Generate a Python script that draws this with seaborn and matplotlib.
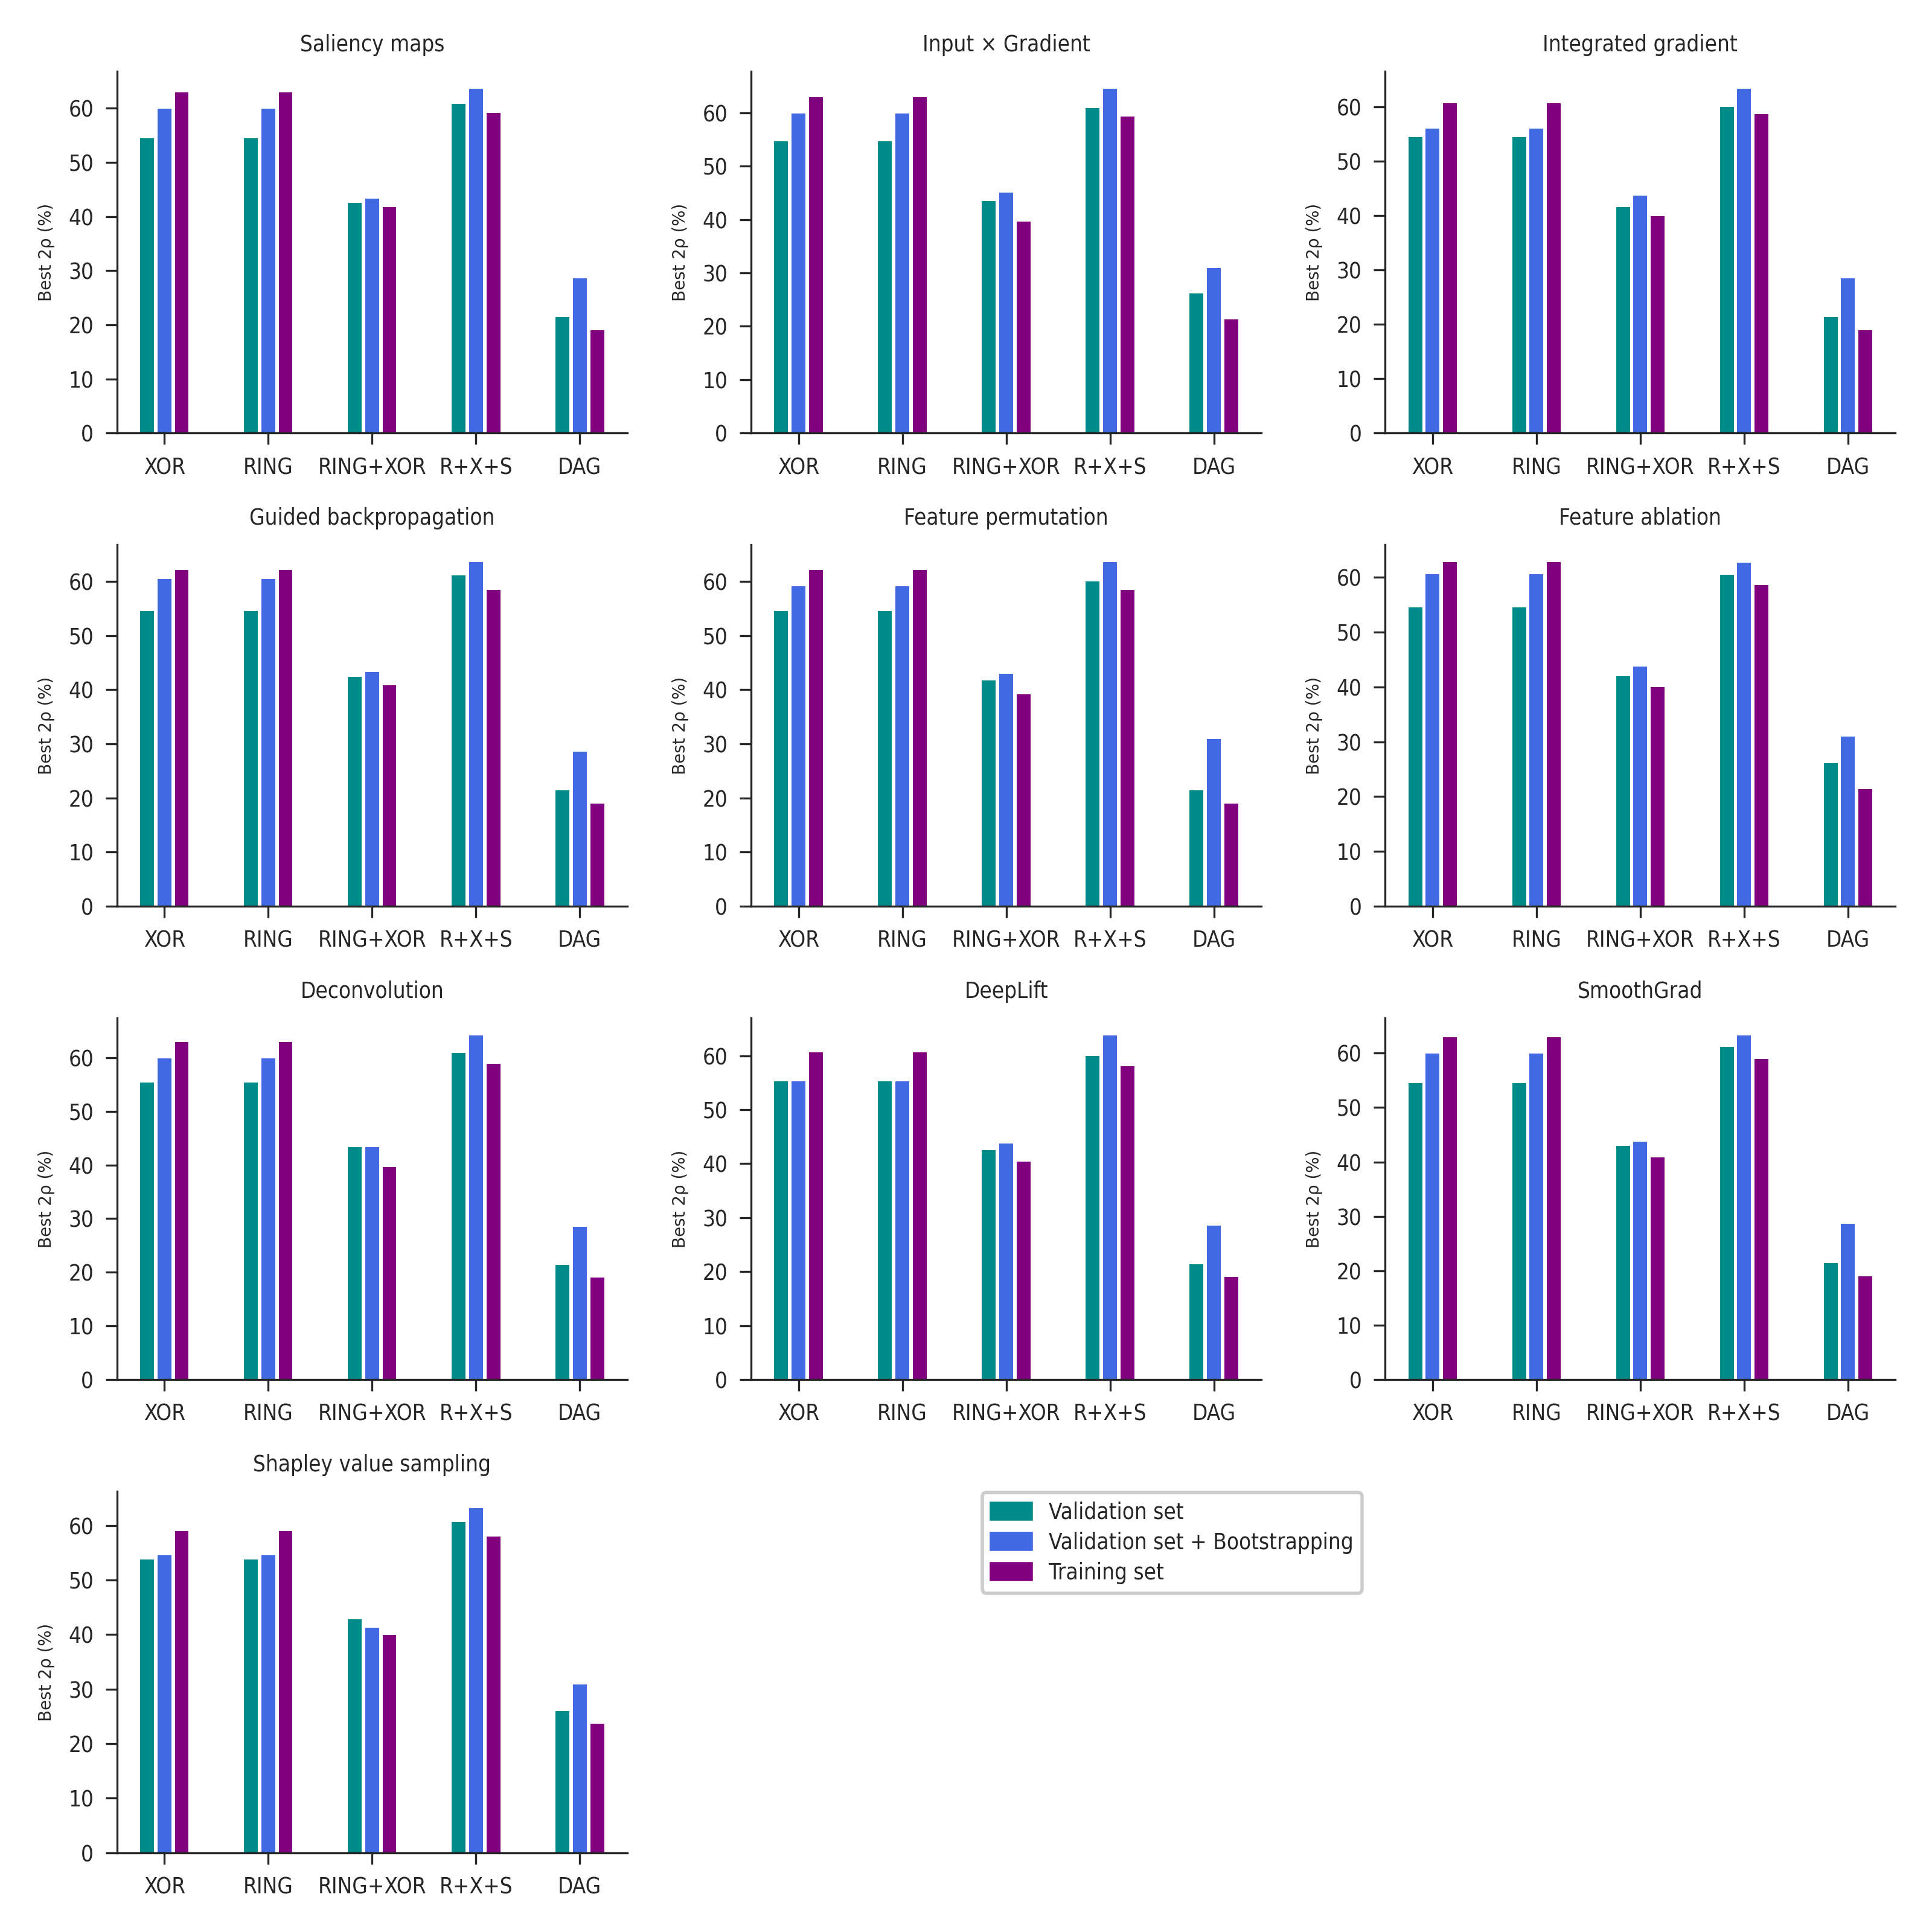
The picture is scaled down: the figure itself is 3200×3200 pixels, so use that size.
import seaborn as sns
import matplotlib.pyplot as plt
import numpy as np
import pandas as pd
from matplotlib.font_manager import FontProperties

# datasets on the x axis, and the three ways of picking the best 2p
datasets = ['XOR', 'RING', 'RING+XOR', 'R+X+S', 'DAG']
sets = ['Validation set', 'Validation set + Bootstrapping', 'Training set']
colors = ['darkcyan', 'royalblue', 'purple']

# rows: validation, validation + bootstrapping, training
saliency = [[54.5, 54.5, 42.5, 60.8, 21.4],
            [59.9, 59.9, 43.3, 63.6, 28.6],
            [62.9, 62.9, 41.7, 59.1, 19.0]]
input_x_gradient = [[54.6, 54.6, 43.4, 60.9, 26.1],
                    [59.9, 59.9, 45.0, 64.5, 30.9],
                    [62.9, 62.9, 39.6, 59.3, 21.3]]
integrated_gradient = [[54.5, 54.5, 41.6, 60.0, 21.4],
                       [56.1, 56.1, 43.7, 63.4, 28.5],
                       [60.7, 60.7, 39.9, 58.7, 18.9]]
guided_backprop = [[54.5, 54.5, 42.4, 61.1, 21.4],
                   [60.5, 60.5, 43.3, 63.6, 28.6],
                   [62.1, 62.1, 40.8, 58.5, 19.0]]
feature_permutation = [[54.5, 54.5, 41.7, 60.0, 21.4],
                       [59.1, 59.1, 42.9, 63.6, 30.9],
                       [62.1, 62.1, 39.1, 58.5, 19.0]]
feature_ablation = [[54.5, 54.5, 42.0, 60.5, 26.1],
                    [60.6, 60.6, 43.7, 62.7, 30.9],
                    [62.8, 62.8, 40.0, 58.6, 21.4]]
deconvolution = [[55.4, 55.4, 43.3, 60.9, 21.4],
                 [59.9, 59.9, 43.3, 64.2, 28.5],
                 [62.9, 62.9, 39.6, 58.9, 19.0]]
deeplift = [[55.3, 55.3, 42.5, 60.0, 21.4],
            [55.3, 55.3, 43.7, 63.8, 28.5],
            [60.6, 60.6, 40.4, 58.0, 19.0]]
smoothgrad = [[54.5, 54.5, 42.9, 61.1, 21.4],
              [59.9, 59.9, 43.7, 63.3, 28.6],
              [62.9, 62.9, 40.8, 58.9, 19.0]]
shapley = [[53.8, 53.8, 42.8, 60.6, 26.0],
           [54.5, 54.5, 41.2, 63.1, 30.8],
           [59.0, 59.0, 39.9, 58.0, 23.7]]

methods = [('Saliency maps', saliency),
           ('Input \u00d7 Gradient', input_x_gradient),
           ('Integrated gradient', integrated_gradient),
           ('Guided backpropagation', guided_backprop),
           ('Feature permutation', feature_permutation),
           ('Feature ablation', feature_ablation),
           ('Deconvolution', deconvolution),
           ('DeepLift', deeplift),
           ('SmoothGrad', smoothgrad),
           ('Shapley value sampling', shapley)]

sns.set_style('ticks')
plt.rcParams['font.family'] = ['DejaVu Sans']
plt.rcParams['font.stretch'] = 'condensed'
plt.rcParams['axes.linewidth'] = 0.6
plt.rcParams['xtick.major.width'] = 0.6
plt.rcParams['ytick.major.width'] = 0.6
plt.rcParams['xtick.major.size'] = 3.5
plt.rcParams['ytick.major.size'] = 3.5

# y label is in the wide face, not the condensed one
label_font = FontProperties(family='DejaVu Sans', stretch='normal', size=5)

fig, axes = plt.subplots(4, 3, figsize=(8, 8), dpi=400)
fig.subplots_adjust(left=0.0606, right=0.981, top=0.963, bottom=0.041,
                    wspace=0.243, hspace=0.309)
axes = axes.flatten()

for ax, (name, vals) in zip(axes, methods):
    rows = []
    for s, v in zip(sets, vals):
        for d, x in zip(datasets, v):
            rows.append({'dataset': d, 'score': x, 'set': s})
    df = pd.DataFrame(rows)
    sns.barplot(data=df, x='dataset', y='score', hue='set', palette=colors,
                width=0.5, gap=0.2, errorbar=None, linewidth=0, saturation=1,
                ax=ax, legend=False)
    ax.set_xlim(-0.456, 4.456)
    ax.set_title(name, fontsize=6.6)
    ax.set_xlabel('')
    ax.set_ylabel('Best 2\u03c1 (%)', fontproperties=label_font)
    ax.tick_params(labelsize=6.6)
    sns.despine(ax=ax)

for ax in axes[len(methods):]:
    ax.set_visible(False)

handles = [plt.Rectangle((0, 0), 1, 1, color=c) for c in colors]
leg = fig.legend(handles, sets, loc='upper left',
                 bbox_to_anchor=(0.5084, 0.2275), borderaxespad=0,
                 fontsize=6.6, handlelength=1.8, labelspacing=0.36,
                 frameon=True, fancybox=True, framealpha=1)
leg.get_frame().set_edgecolor('0.8')
leg.get_frame().set_linewidth(1.0)

fig.savefig('out.png', dpi=400)
